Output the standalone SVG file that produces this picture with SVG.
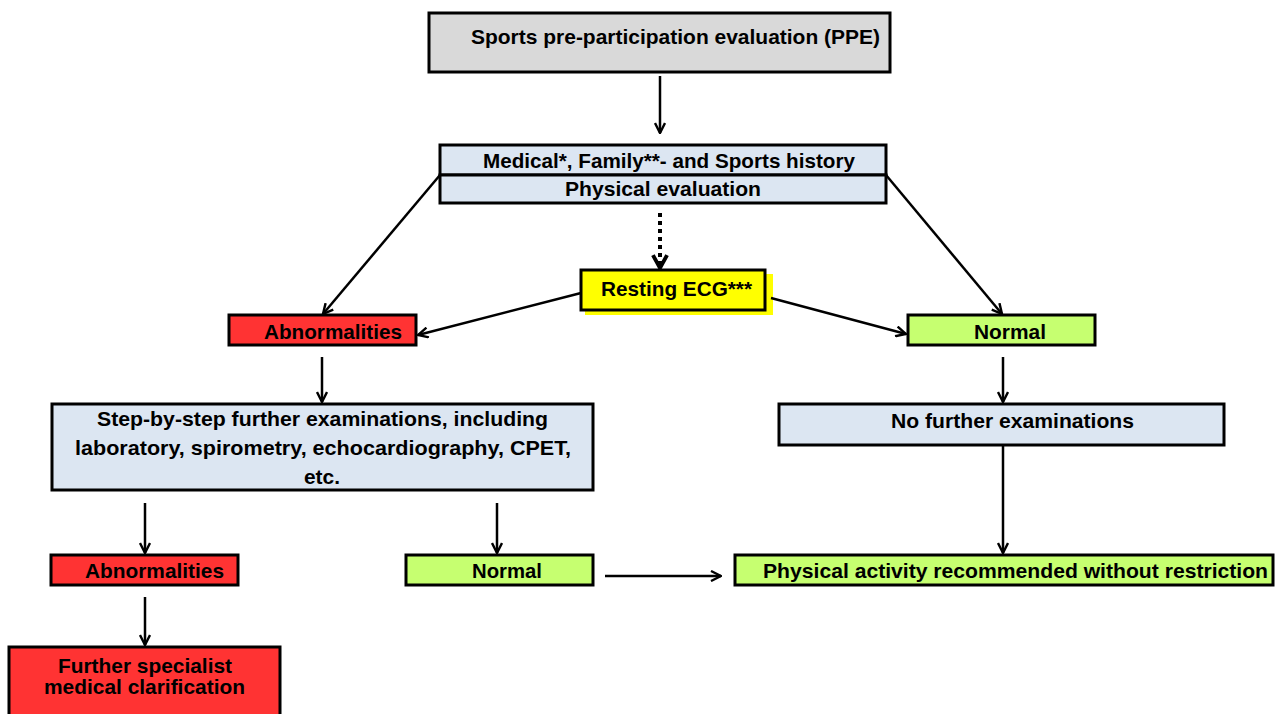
<svg xmlns="http://www.w3.org/2000/svg" width="1279" height="714" viewBox="0 0 1279 714">
<defs>
<marker id="ah" viewBox="0 0 12 12" refX="11" refY="6" markerWidth="12" markerHeight="12" markerUnits="userSpaceOnUse" orient="auto">
<path d="M1,1 L11,6 L1,11" fill="none" stroke="#000" stroke-width="2.4"/>
</marker>
<marker id="ahd" viewBox="0 0 14 14" refX="12" refY="7" markerWidth="18" markerHeight="18" markerUnits="userSpaceOnUse" orient="auto">
<path d="M2,1.5 L12,7 L2,12.5" fill="none" stroke="#000" stroke-width="3"/>
</marker>
</defs>
<style>
.box{stroke:#000;stroke-width:3}
.grey{fill:#d9d9d9}
.blue{fill:#dce6f2}
.red{fill:#ff3333}
.green{fill:#c6ff70}
.yel{fill:#ffff00}
text{font-family:"Liberation Sans",Arial,sans-serif;font-weight:bold;font-size:20.5px;fill:#000}
.c{stroke:#000;stroke-width:2.5;fill:none;marker-end:url(#ah)}
</style>
<rect width="1279" height="714" fill="#fff"/>
<g id="ppe"><rect class="box grey" x="429" y="13" width="461" height="59"/><text x="471" y="44" textLength="409" lengthAdjust="spacingAndGlyphs">Sports pre-participation evaluation (PPE)</text></g>
<g id="history"><rect class="box blue" x="440" y="145" width="446" height="30"/><text x="483" y="168" textLength="372" lengthAdjust="spacingAndGlyphs">Medical*, Family**- and Sports history</text></g>
<g id="physical"><rect class="box blue" x="440" y="175" width="446" height="28"/><text x="565" y="196" textLength="196" lengthAdjust="spacingAndGlyphs">Physical evaluation</text></g>
<g id="ecg"><rect x="585" y="274" width="188" height="41" fill="#ffff00"/><rect class="box yel" x="581" y="270" width="184" height="40"/><text x="601" y="296" textLength="151" lengthAdjust="spacingAndGlyphs">Resting ECG***</text></g>
<g id="abn1"><rect class="box red" x="229" y="315" width="187" height="30"/><text x="264" y="339" textLength="138" lengthAdjust="spacingAndGlyphs">Abnormalities</text></g>
<g id="normal1"><rect class="box green" x="908" y="315" width="187" height="30"/><text x="974" y="339" textLength="72" lengthAdjust="spacingAndGlyphs">Normal</text></g>
<g id="steps"><rect class="box blue" x="52" y="404" width="541" height="86"/>
<text x="97" y="426" textLength="451" lengthAdjust="spacingAndGlyphs">Step-by-step further examinations, including</text>
<text x="75" y="455" textLength="496" lengthAdjust="spacingAndGlyphs">laboratory, spirometry, echocardiography, CPET,</text>
<text x="304" y="484" textLength="36" lengthAdjust="spacingAndGlyphs">etc.</text></g>
<g id="nofurther"><rect class="box blue" x="779" y="404" width="445" height="41"/><text x="891" y="428" textLength="243" lengthAdjust="spacingAndGlyphs">No further examinations</text></g>
<g id="abn2"><rect class="box red" x="51" y="555" width="187" height="30"/><text x="85" y="578" textLength="139" lengthAdjust="spacingAndGlyphs">Abnormalities</text></g>
<g id="normal2"><rect class="box green" x="406" y="555" width="187" height="30"/><text x="472" y="578" textLength="70" lengthAdjust="spacingAndGlyphs">Normal</text></g>
<g id="activity"><rect class="box green" x="735" y="555" width="538" height="30"/><text x="763" y="578" textLength="505" lengthAdjust="spacingAndGlyphs">Physical activity recommended without restriction</text></g>
<g id="specialist"><rect class="box red" x="9" y="647" width="271" height="72"/>
<text x="58" y="673" textLength="174" lengthAdjust="spacingAndGlyphs">Further specialist</text>
<text x="44" y="694" textLength="201" lengthAdjust="spacingAndGlyphs">medical clarification</text></g>
<g id="connectors">
<line class="c" x1="660" y1="76" x2="660" y2="133"/>
<line x1="660" y1="213" x2="660" y2="268" stroke="#000" stroke-width="4" stroke-dasharray="4,4" fill="none" marker-end="url(#ahd)"/>
<line class="c" x1="440" y1="175" x2="323" y2="314"/>
<line class="c" x1="886" y1="175" x2="1002" y2="314"/>
<line class="c" x1="581" y1="293" x2="418" y2="335"/>
<line class="c" x1="771" y1="298" x2="906" y2="334"/>
<line class="c" x1="322" y1="357" x2="322" y2="402"/>
<line class="c" x1="1003" y1="357" x2="1003" y2="402"/>
<line class="c" x1="1003" y1="446" x2="1003" y2="553"/>
<line class="c" x1="145" y1="503" x2="145" y2="553"/>
<line class="c" x1="497" y1="503" x2="497" y2="553"/>
<line class="c" x1="605" y1="576" x2="721" y2="576"/>
<line class="c" x1="145" y1="597" x2="145" y2="645"/>
</g>
</svg>
